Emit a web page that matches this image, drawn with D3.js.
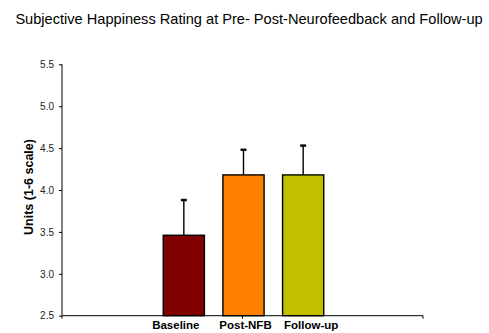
<!DOCTYPE html>
<html>
<head>
<meta charset="utf-8">
<script src="https://cdn.jsdelivr.net/npm/d3@7"></script>
<style>
  html, body { margin: 0; padding: 0; background: #fff; }
  svg { display: block; font-family: Arial, "Liberation Sans", sans-serif; }
</style>
</head>
<body>
<svg id="chart" width="489" height="333"></svg>
<script>
// Mean happiness rating per session, with the upper error (mean + SE)
const categories = ["Baseline", "Post-NFB", "Follow-up"];
const means = [3.46, 4.18, 4.18];
const errorTops = [3.88, 4.48, 4.53];
const colors = ["#800000", "#ff8000", "#c0c000"];
const yTicks = [2.5, 3.0, 3.5, 4.0, 4.5, 5.0, 5.5];
const labelShift = [-8, 2, 8];

const svg = d3.select("#chart");

const y = d3.scaleLinear().domain([2.5, 5.5]).range([315.7, 64.3]);
const x = d3.scaleBand().domain(categories).range([154, 333])
  .paddingInner(0.31).paddingOuter(0.155);
const axisX0 = 62, axisX1 = 423;

// Title
svg.append("text")
  .attr("x", 249).attr("y", 24)
  .attr("text-anchor", "middle")
  .attr("font-size", 14.6)
  .attr("fill", "#000")
  .text("Subjective Happiness Rating at Pre- Post-Neurofeedback and Follow-up");

// Y axis
const yAxis = d3.axisLeft(y).tickValues(yTicks).tickFormat(d3.format(".1f"))
  .tickSize(3).tickPadding(5);
const gy = svg.append("g").attr("transform", `translate(${axisX0},0)`).call(yAxis);
gy.select(".domain").remove();
gy.append("line").attr("x1", 0).attr("x2", 0)
  .attr("y1", y(5.5)).attr("y2", y(2.5)).attr("stroke", "#000").attr("stroke-width", 1);
gy.selectAll(".tick line").attr("stroke", "#000");
gy.selectAll(".tick text").attr("font-size", 10).attr("fill", "#222")
  .attr("font-family", "Arial, 'Liberation Sans', sans-serif");

// Y axis title
svg.append("text")
  .attr("transform", `translate(33,187) rotate(-90)`)
  .attr("text-anchor", "middle")
  .attr("font-size", 12.5)
  .attr("font-weight", "bold")
  .attr("fill", "#000")
  .text("Units (1-6 scale)");

// Bars
svg.append("g").selectAll("rect")
  .data(categories)
  .join("rect")
  .attr("x", d => x(d))
  .attr("width", x.bandwidth())
  .attr("y", (d, i) => y(means[i]))
  .attr("height", (d, i) => y(2.5) - y(means[i]))
  .attr("fill", (d, i) => colors[i])
  .attr("stroke", "#000")
  .attr("stroke-width", 1.4);

// Error bars (upper only)
const eb = svg.append("g");
categories.forEach((c, i) => {
  const cx = x(c) + x.bandwidth() / 2;
  eb.append("line")
    .attr("x1", cx).attr("x2", cx)
    .attr("y1", y(means[i])).attr("y2", y(errorTops[i]))
    .attr("stroke", "#000").attr("stroke-width", 1.4);
  eb.append("line")
    .attr("x1", cx - 3).attr("x2", cx + 3)
    .attr("y1", y(errorTops[i])).attr("y2", y(errorTops[i]))
    .attr("stroke", "#1a0808").attr("stroke-width", 2.5);
});

// X axis line with category dividers
const gx = svg.append("g");
gx.append("line").attr("x1", axisX0).attr("x2", axisX1)
  .attr("y1", y(2.5)).attr("y2", y(2.5)).attr("stroke", "#000").attr("stroke-width", 1);
[axisX0, (axisX0 + axisX1) / 2, axisX1].forEach(tx => {
  gx.append("line").attr("x1", tx).attr("x2", tx)
    .attr("y1", y(2.5)).attr("y2", y(2.5) + 3).attr("stroke", "#000");
});

// Category labels
svg.append("g").selectAll("text")
  .data(categories)
  .join("text")
  .attr("x", (d, i) => x(d) + x.bandwidth() / 2 + labelShift[i])
  .attr("y", 329)
  .attr("text-anchor", "middle")
  .attr("font-size", 11.5)
  .attr("font-weight", "bold")
  .attr("fill", "#000")
  .text(d => d);
</script>
</body>
</html>
